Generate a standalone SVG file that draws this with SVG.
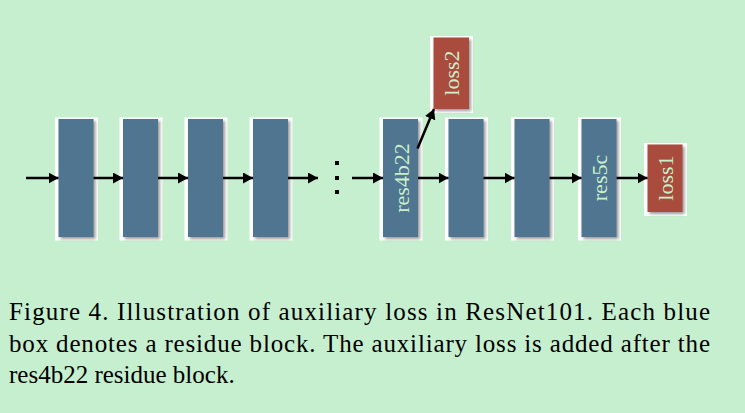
<svg xmlns="http://www.w3.org/2000/svg" width="745" height="413" viewBox="0 0 745 413">
<defs>
<marker id="ah" markerWidth="10" markerHeight="11" refX="10" refY="5.5" orient="auto" markerUnits="userSpaceOnUse">
<path d="M0,0 L10,5.5 L0,11 Z" fill="#000"/>
</marker>
<filter id="sh" x="-20%" y="-10%" width="150%" height="130%">
<feDropShadow dx="2" dy="2" stdDeviation="1.5" flood-color="#555" flood-opacity="0.6"/>
</filter>
</defs>
<style>
.frame{fill:#ffffff;}
.blue{fill:#4f7590;filter:url(#sh);}
.red{fill:#a94b3e;filter:url(#sh);}
.lbl{font-family:"Liberation Serif","Times New Roman",serif;font-size:22px;fill:#c9efca;text-anchor:middle;}
.cap{font-family:"Liberation Serif","Times New Roman",serif;font-size:25px;fill:#000;}
.arr{stroke:#000;stroke-width:2.5;fill:none;marker-end:url(#ah);}
</style>
<rect x="0" y="0" width="745" height="413" fill="#c6efcf"/>

<g id="b1"><rect class="frame" x="55" y="117.5" width="43" height="123"/><rect class="blue" x="58.5" y="119" width="35" height="118"/></g>
<g id="b2"><rect class="frame" x="119.5" y="117.5" width="43" height="123"/><rect class="blue" x="123" y="119" width="35" height="118"/></g>
<g id="b3"><rect class="frame" x="184.5" y="117.5" width="43" height="123"/><rect class="blue" x="188" y="119" width="35" height="118"/></g>
<g id="b4"><rect class="frame" x="249.5" y="117.5" width="43" height="123"/><rect class="blue" x="253" y="119" width="35" height="118"/></g>
<g id="res4b22"><rect class="frame" x="379.5" y="117.5" width="43" height="123"/><rect class="blue" x="383" y="119" width="35" height="118"/>
<text class="lbl" transform="translate(409,178) rotate(-90)">res4b22</text></g>
<g id="b6"><rect class="frame" x="445" y="117.5" width="43" height="123"/><rect class="blue" x="448.5" y="119" width="35" height="118"/></g>
<g id="b7"><rect class="frame" x="511" y="117.5" width="43" height="123"/><rect class="blue" x="514.5" y="119" width="35" height="118"/></g>
<g id="res5c"><rect class="frame" x="578" y="117.5" width="43" height="123"/><rect class="blue" x="581.5" y="119" width="35" height="118"/>
<text class="lbl" transform="translate(607,178) rotate(-90)">res5c</text></g>
<g id="loss2"><rect class="frame" x="430" y="36" width="43" height="77"/><rect class="red" x="433.5" y="37.5" width="35.5" height="71.5"/>
<text class="lbl" transform="translate(459,73) rotate(-90)">loss2</text></g>
<g id="loss1"><rect class="frame" x="644" y="143" width="43" height="73"/><rect class="red" x="647.5" y="144.5" width="35" height="67.5"/>
<text class="lbl" transform="translate(673,178) rotate(-90)">loss1</text></g>

<g id="connectors">
<line class="arr" x1="26" y1="178" x2="58.5" y2="178"/>
<line class="arr" x1="93.5" y1="178" x2="123" y2="178"/>
<line class="arr" x1="158" y1="178" x2="188" y2="178"/>
<line class="arr" x1="223" y1="178" x2="253" y2="178"/>
<line class="arr" x1="288" y1="178" x2="318" y2="178"/>
<line class="arr" x1="352" y1="178" x2="383" y2="178"/>
<line class="arr" x1="418" y1="178" x2="448.5" y2="178"/>
<line class="arr" x1="483.5" y1="178" x2="514.5" y2="178"/>
<line class="arr" x1="549.5" y1="178" x2="581.5" y2="178"/>
<line class="arr" x1="616.5" y1="178" x2="647.5" y2="178"/>
<line class="arr" x1="417.5" y1="148.5" x2="434" y2="109"/>
</g>
<g id="dots" fill="#000">
<rect x="335" y="161" width="4" height="4"/>
<rect x="335" y="176" width="4" height="4"/>
<rect x="335" y="190" width="4" height="4"/>
</g>

<g id="caption">
<text class="cap" x="9" y="319.5" textLength="701" lengthAdjust="spacing">Figure 4. Illustration of auxiliary loss in ResNet101.  Each blue</text>
<text class="cap" x="9" y="352" textLength="701" lengthAdjust="spacing">box denotes a residue block. The auxiliary loss is added after the</text>
<text class="cap" x="9" y="383">res4b22 residue block.</text>
</g>
</svg>
